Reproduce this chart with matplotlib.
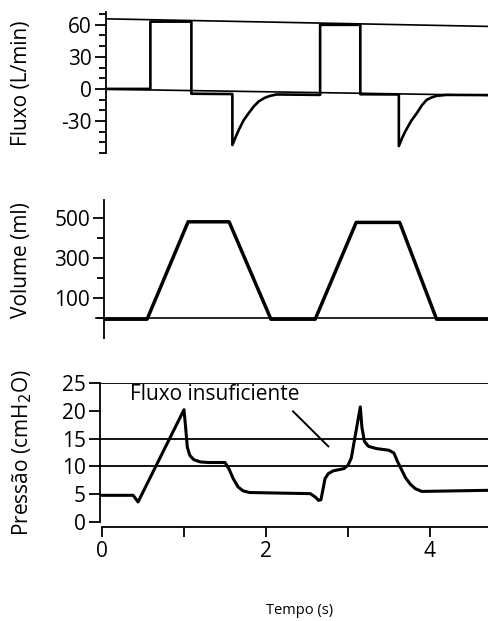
import numpy as np
import matplotlib
matplotlib.use('Agg')
import matplotlib.pyplot as plt
from matplotlib.ticker import MultipleLocator

plt.rcParams['font.family'] = ['Open Sans', 'DejaVu Sans']
plt.rcParams['axes.unicode_minus'] = False

# fluxo (L/min)
t_fluxo = [0.05, 0.59, 0.59, 1.09, 1.09, 1.59, 1.59, 1.63, 1.67, 1.73, 1.79, 1.85, 1.91,
           1.98, 2.05, 2.13, 2.66,
           2.66, 3.15, 3.15, 3.62, 3.62, 3.66, 3.70, 3.77, 3.84, 3.90, 3.96, 4.02,
           4.08, 4.20, 4.72]
fluxo = [0, 0, 63, 63, -4.5, -4.8, -52.5, -45, -38, -29, -22.6, -16.5, -11.8,
         -8.5, -6.5, -5.2, -5.6,
         60, 60, -5, -5.2, -53.5, -46, -39.6, -30, -22.6, -15.5, -10.2, -8,
         -6.5, -5.6, -5.8]
t_ref = [0.05, 4.72]
ref_sup = [65.6, 58.5]
ref_inf = [-0.3, -6.0]

# volume (ml)
t_vol = [0.02, 0.55, 1.05, 1.55, 2.06, 2.60, 3.10, 3.63, 4.08, 4.72]
volume = [-6, -6, 481, 481, -6, -6, 478, 478, -6, -6]

# pressao (cmH2O)
t_pres = [0.0, 0.38, 0.44, 0.48, 1.0, 1.02, 1.04, 1.07, 1.12, 1.2, 1.3, 1.5,
          1.55, 1.6, 1.66, 1.72, 1.8, 2.54, 2.6, 2.64, 2.67, 2.69, 2.72, 2.76,
          2.82, 2.95, 3.0, 3.04, 3.15, 3.17, 3.2, 3.25, 3.35, 3.5, 3.56, 3.6,
          3.65, 3.7, 3.76, 3.82, 3.9, 4.72]
pressao = [4.8, 4.8, 3.6, 4.8, 20.2, 17.0, 13.5, 12.0, 11.2, 10.8, 10.7, 10.7,
           9.5, 7.8, 6.3, 5.6, 5.3, 5.1, 4.5, 3.9, 4.0, 5.5, 7.8, 8.7,
           9.2, 9.6, 10.2, 11.5, 20.7, 17.0, 14.5, 13.6, 13.2, 12.9, 12.4, 11.0,
           9.5, 8.0, 6.8, 6.0, 5.5, 5.7]
linhas_pres = [10, 15, 25]

W, H = 489, 621
fig = plt.figure(figsize=(W / 100, H / 100), dpi=100)

def px_ax(left, top, bottom):
    return fig.add_axes([left / W, 1 - bottom / H, 1 - left / W, (bottom - top) / H])

def xl(left):
    return ((left - 102) / 82.0, (489 - 102) / 82.0)

lw = 1.9
fs = 15
tk = dict(labelsize=fs, length=8, width=1.3, pad=2)

# --- fluxo ---
ax1 = px_ax(106, 12, 153)
ax1.plot(t_ref, ref_sup, color='k', lw=1.2)
ax1.plot(t_ref, ref_inf, color='k', lw=1.2)
ax1.plot(t_fluxo, fluxo, color='k', lw=lw)
ax1.set_xlim(xl(106))
ax1.set_ylim(-60, 72)
ax1.set_yticks([-30, 0, 30, 60])
ax1.yaxis.set_minor_locator(MultipleLocator(10))
ax1.tick_params(axis='y', **tk)
ax1.tick_params(axis='y', which='minor', length=5, width=1.3)
ax1.set_xticks([])
for s in ['top', 'right', 'bottom']:
    ax1.spines[s].set_visible(False)
ax1.spines['left'].set_linewidth(1.3)
fig.text(22 / W, 1 - 83 / H, 'Fluxo (L/min)', rotation=90, ha='center', va='center', fontsize=fs)

# --- volume ---
ax2 = px_ax(104, 200, 338)
ax2.axhline(0, color='k', lw=1.2, xmin=-0.02, clip_on=False)
ax2.plot(t_vol, volume, color='k', lw=lw + 0.6)
ax2.set_xlim(xl(104))
ax2.set_ylim(-100, 590)
ax2.set_yticks([100, 300, 500])
ax2.set_yticks([0, 200, 400], minor=True)
ax2.tick_params(axis='y', **tk)
ax2.tick_params(axis='y', which='minor', length=5, width=1.3)
ax2.set_xticks([])
for s in ['top', 'right', 'bottom']:
    ax2.spines[s].set_visible(False)
ax2.spines['left'].set_linewidth(1.3)
fig.text(22 / W, 1 - 260 / H, 'Volume (ml)', rotation=90, ha='center', va='center', fontsize=fs)

# --- pressao ---
ax3 = px_ax(100, 383, 527)
for v in linhas_pres:
    ax3.axhline(v, color='k', lw=1.3)
ax3.plot(t_pres, pressao, color='k', lw=lw + 0.3)
ax3.set_xlim(xl(100))
ax3.set_ylim(-0.9, 25)
ax3.set_yticks([0, 5, 10, 15, 20, 25])
ax3.set_xticks([0, 2, 4])
ax3.set_xticks([1, 3], minor=True)
ax3.tick_params(axis='y', **tk)
ax3.tick_params(axis='x', labelsize=fs, length=7, width=1.3, pad=3)
ax3.tick_params(axis='x', which='minor', length=7, width=1.3)
for s in ['top', 'right']:
    ax3.spines[s].set_visible(False)
ax3.spines['left'].set_bounds(0, 25)
ax3.spines['bottom'].set_bounds(0, xl(100)[1])
ax3.spines['left'].set_linewidth(1.3)
ax3.spines['bottom'].set_linewidth(1.3)
ax3.text(0.34, 22.9, 'Fluxo insuficiente', fontsize=15, ha='left', va='center')
ax3.plot([2.33, 2.76], [19.9, 13.6], color='k', lw=1.4)
fig.text(22 / W, 1 - 453 / H, 'Pressão (cmH$_2$O)', rotation=90, ha='center', va='center', fontsize=fs)

fig.text(300 / W, 1 - 610 / H, 'Tempo (s)', ha='center', va='center', fontsize=10.5)

fig.savefig('out.png', dpi=100)
